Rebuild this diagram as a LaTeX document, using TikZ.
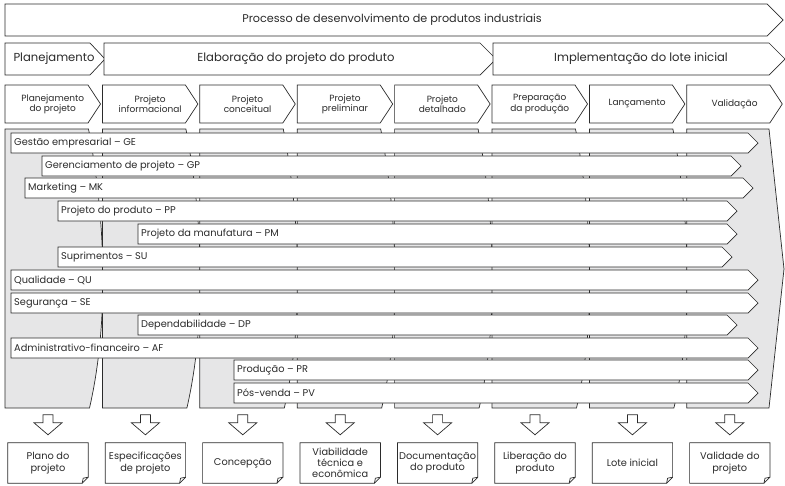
\documentclass[tikz,border=0pt]{standalone}
\usepackage{fontspec}
\setmainfont{Poppins}
\usetikzlibrary{calc}
\definecolor{ink}{HTML}{2B2B2B}
\definecolor{panelgrey}{HTML}{E6E6E7}
\begin{document}
\begin{tikzpicture}[x=1pt,y=-1pt,
  outline/.style={draw=ink,line width=0.7pt,line join=miter},
  panel/.style={outline,fill=panelgrey},
  band/.style={outline,fill=white},
  titletext/.style={font=\fontsize{11.2}{13}\selectfont,text=ink,inner sep=0pt},
  bigtext/.style={font=\fontsize{11.6}{13}\selectfont,text=ink,inner sep=0pt},
  phasetext/.style={font=\fontsize{9}{10.5}\selectfont,text=ink,align=center,inner sep=0pt},
  bartext/.style={font=\fontsize{9.8}{11}\selectfont,text=ink,anchor=west,inner sep=0pt},
  doctext/.style={font=\fontsize{9.8}{11.3}\selectfont,text=ink,align=center,inner sep=0pt,
                  minimum width=80pt,minimum height=40pt},
  hollow/.style={outline,fill=white}
]
\useasboundingbox (0,0) rectangle (785,485);

% ---------- process banner ----------
\draw[band] (5,4) -- (767,4) -- (783,20) -- (767,36) -- (5,36) -- cycle;
\node[titletext] (process) at (392,20) {Processo de desenvolvimento de produtos industriais};

% ---------- macro phases ----------
\draw[band] (5,43) -- (90,43) -- (105,59) -- (90,75) -- (5,75) -- cycle;
\node[bigtext] (plan) at (54,59) {Planejamento};
\draw[band] (104,43) -- (480,43) -- (496,59) -- (480,75) -- (104,75) -- cycle;
\node[bigtext] (elab) at (296,59) {Elaboração do projeto do produto};
\draw[band] (493,43) -- (769,43) -- (785,59) -- (769,75) -- (493,75) -- cycle;
\node[bigtext] (impl) at (641,59) {Implementação do lote inicial};

% ---------- phases ----------
\foreach \i/\t in {1/{Planejamento\\do projeto},2/{Projeto\\informacional},
                   3/{Projeto\\conceitual},4/{Projeto\\preliminar},
                   5/{Projeto\\detalhado},6/{Preparação\\da produção},
                   7/{Lançamento},8/{Validação}}{
  \pgfmathsetmacro{\L}{5+97.4*(\i-1)}
  \pgfmathsetmacro{\R}{\L+83}
  \pgfmathsetmacro{\T}{\L+95.5}
  \pgfmathsetmacro{\C}{(\L+\T)/2}
  \draw[band] (\L,85) -- (\R,85) -- (\T,104) -- (\R,123) -- (\L,123) -- cycle;
  \node[phasetext] (phase\i) at (\C,104) {\t};
}

% ---------- grey phase columns ----------
\foreach \i in {1,...,7}{
  \pgfmathsetmacro{\L}{5+97.4*(\i-1)}
  \pgfmathsetmacro{\R}{\L+83.5}
  \pgfmathsetmacro{\B}{\R+19}
  \pgfmathsetmacro{\E}{\R+1}
  \draw[panel] (\L,129) -- (\R,129) .. controls (\B,230) and (\B,330) .. (\E,408)
               -- (\L,408) -- cycle;
}
\draw[panel] (686.8,129) -- (769,129) -- (784,269) -- (769,408) -- (686.8,408) -- cycle;

% ---------- functional areas ----------
\foreach \n/\x/\y/\tip/\t in {ge/11/133/758/{Gestão empresarial – GE},
                              gp/42/156/741/{Gerenciamento de projeto – GP},
                              mk/25/178/753/{Marketing – MK},
                              pp/58/201/737/{Projeto do produto – PP},
                              pm/138/224/737/{Projeto da manufatura – PM},
                              su/58/247/732/{Suprimentos – SU},
                              qu/11/270/758/{Qualidade – QU},
                              se/11/293/758/{Segurança – SE},
                              dp/138/315/737/{Dependabilidade – DP},
                              af/11/338/758/{Administrativo-financeiro – AF},
                              pr/234/360/758/{Produção – PR},
                              pv/234/383/758/{Pós-venda – PV}}{
  \pgfmathsetmacro{\R}{\tip-10}
  \pgfmathsetmacro{\M}{\y+10}
  \pgfmathsetmacro{\D}{\y+20}
  \draw[band] (\x,\y) -- (\R,\y) -- (\tip,\M) -- (\R,\D) -- (\x,\D) -- cycle;
  \node[bartext] (\n) at (\x+3,\M) {\t};
}

% ---------- deliverables ----------
\foreach \i/\t in {1/{Plano do\\projeto},2/{Especificações\\de projeto},
                   3/{Concepção},4/{Viabilidade\\técnica e\\econômica},
                   5/{Documentação\\do produto},6/{Liberação do\\produto},
                   7/{Lote inicial},8/{Validade do\\projeto}}{
  \pgfmathsetmacro{\C}{48+97.4*(\i-1)}
  \node[doctext] (doc\i) at (\C,463) {\t};
  \draw[outline,fill=white] (doc\i.north west) -- (doc\i.north east)
        -- ($(doc\i.south east)+(0,-6)$) -- ($(doc\i.south east)+(-6,0)$)
        -- (doc\i.south west) -- cycle;
  \draw[outline] ($(doc\i.south east)+(0,-6)$) -- ($(doc\i.south east)+(-5,-5)$)
        -- ($(doc\i.south east)+(-6,0)$);
  \node[doctext] at (doc\i) {\t};
  % hollow arrow from column down to deliverable
  \draw[hollow] ($(doc\i.north)+(-5,-28)$) -- ($(doc\i.north)+(5,-28)$)
        -- ($(doc\i.north)+(5,-20)$) -- ($(doc\i.north)+(14,-20)$)
        -- ($(doc\i.north)+(0,-8)$) -- ($(doc\i.north)+(-14,-20)$)
        -- ($(doc\i.north)+(-5,-20)$) -- cycle;
}
\end{tikzpicture}
\end{document}
